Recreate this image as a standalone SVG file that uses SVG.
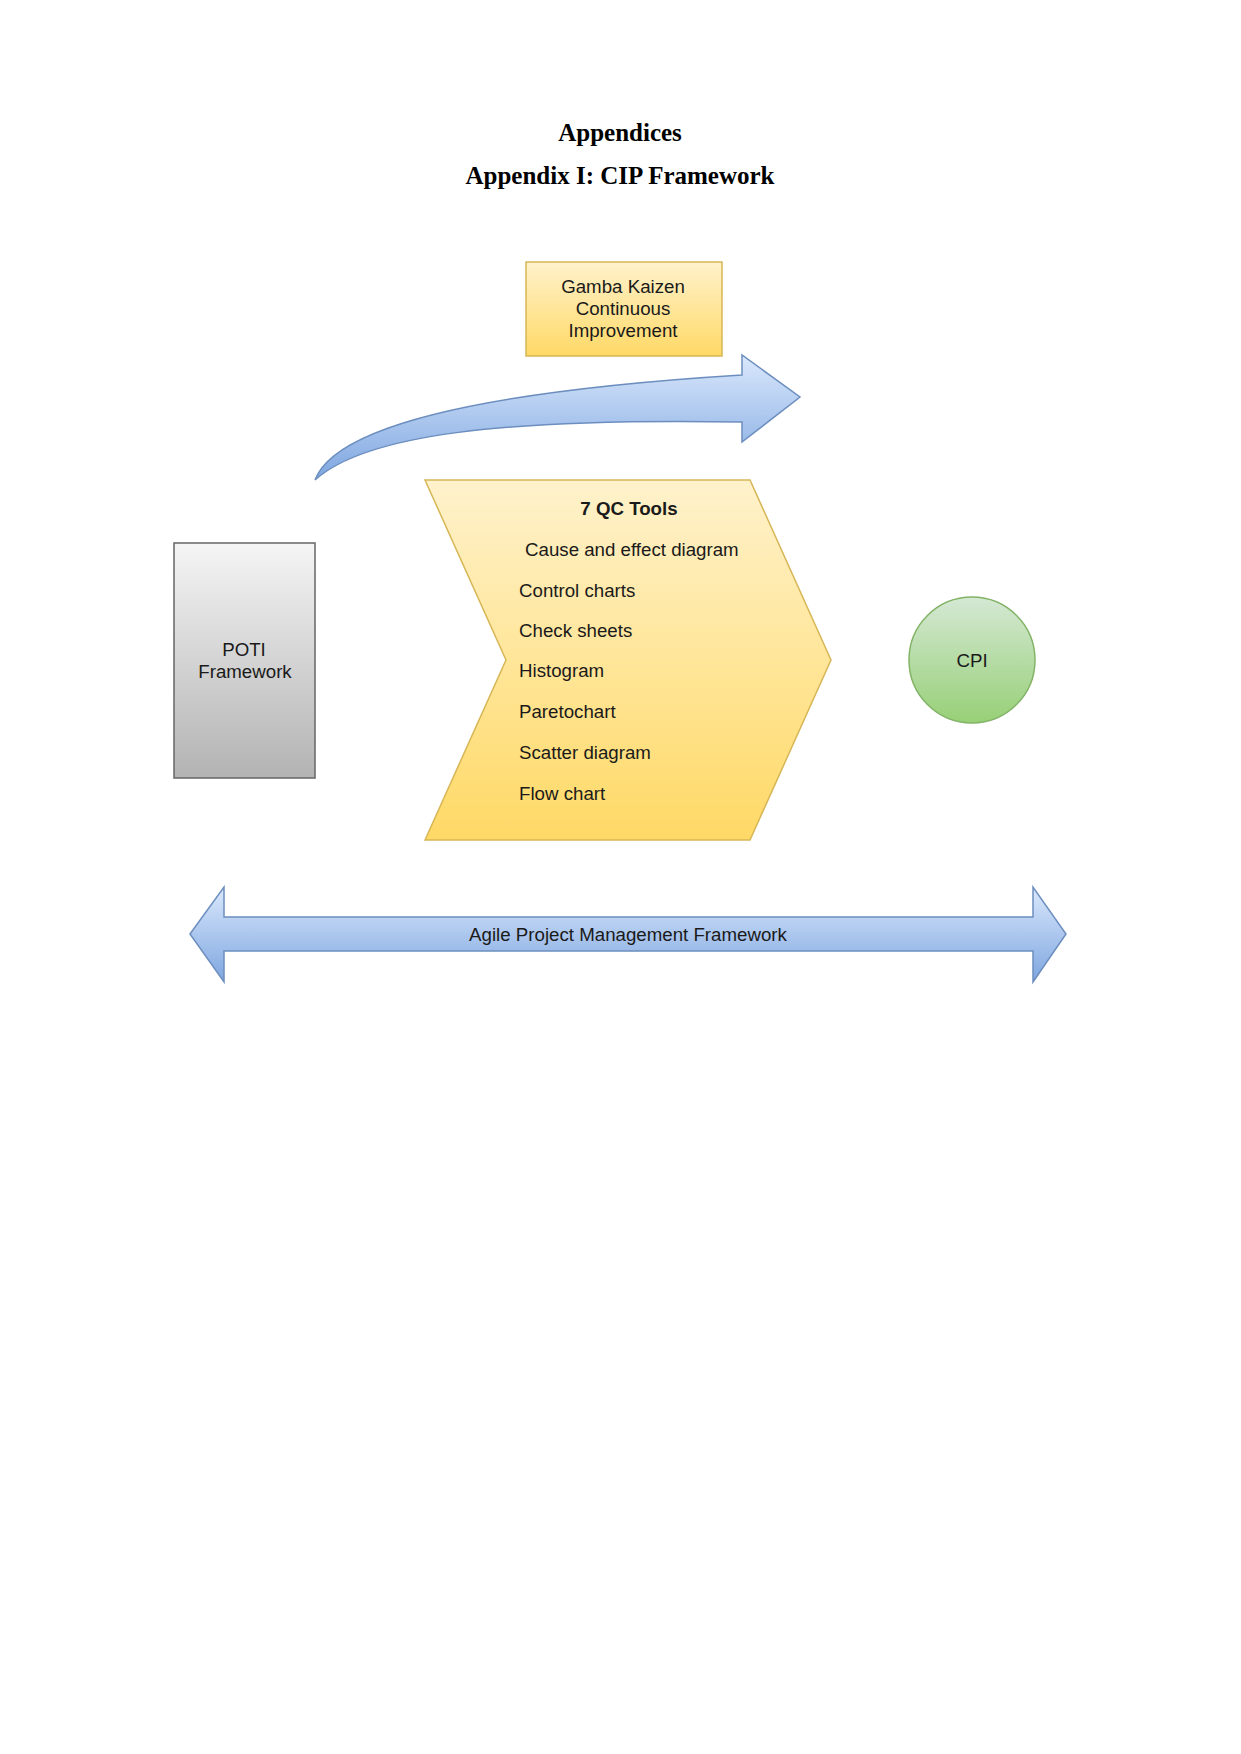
<svg xmlns="http://www.w3.org/2000/svg" width="1241" height="1754" viewBox="0 0 1241 1754">
  <defs>
    <linearGradient id="gYellow" x1="0" y1="0" x2="0" y2="1">
      <stop offset="0" stop-color="#fff2cc"/>
      <stop offset="1" stop-color="#ffd966"/>
    </linearGradient>
    <linearGradient id="gGray" x1="0" y1="0" x2="0" y2="1">
      <stop offset="0" stop-color="#f5f5f5"/>
      <stop offset="1" stop-color="#b3b3b3"/>
    </linearGradient>
    <linearGradient id="gGreen" x1="0" y1="0" x2="0" y2="1">
      <stop offset="0" stop-color="#d5e8d4"/>
      <stop offset="1" stop-color="#97d077"/>
    </linearGradient>
    <linearGradient id="gBlue" x1="0" y1="0" x2="0" y2="1">
      <stop offset="0" stop-color="#dae8fc"/>
      <stop offset="1" stop-color="#7ea6e0"/>
    </linearGradient>
  </defs>
  <style>
    .title { font-family: "Liberation Serif", "Times New Roman", serif; font-weight: bold; font-size: 25px; fill: #000; text-anchor: middle; }
    .lbl { font-family: "Liberation Sans", Arial, sans-serif; font-size: 18.7px; fill: #1a1a1a; }
    .mid { text-anchor: middle; }
    .yellow { fill: url(#gYellow); stroke: #d6b656; stroke-width: 1.5; }
    .gray { fill: url(#gGray); stroke: #666666; stroke-width: 1.5; }
    .green { fill: url(#gGreen); stroke: #82b366; stroke-width: 1.5; }
    .blue { fill: url(#gBlue); stroke: #6c8ebf; stroke-width: 1.5; }
  </style>
  <rect width="1241" height="1754" fill="#ffffff"/>

  <g id="titles">
    <text class="title" x="620" y="141">Appendices</text>
    <text class="title" x="620" y="184">Appendix I: CIP Framework</text>
  </g>

  <g id="node-gamba">
    <rect class="yellow" x="526" y="262" width="196" height="94"/>
    <text class="lbl mid" x="623" y="293">Gamba Kaizen</text>
    <text class="lbl mid" x="623" y="315">Continuous</text>
    <text class="lbl mid" x="623" y="337">Improvement</text>
  </g>

  <g id="connectors">
    <path class="blue" d="M 315 480 C 330 440, 420 395, 742 375 L 742 355 L 800 397 L 742 442 L 742 422 C 500 418, 365 435, 315 480 Z"/>
  </g>

  <g id="node-poti">
    <rect class="gray" x="174" y="543" width="141" height="235"/>
    <text class="lbl mid" x="244" y="656">POTI</text>
    <text class="lbl mid" x="245" y="678">Framework</text>
  </g>

  <g id="node-qc">
    <polygon class="yellow" points="425,480 750,480 831,660 750,840 425,840 506,660"/>
    <text class="lbl mid" x="629" y="515" font-weight="bold">7 QC Tools</text>
    <text class="lbl" x="525" y="556">Cause and effect diagram</text>
    <text class="lbl" x="519" y="597">Control charts</text>
    <text class="lbl" x="519" y="637">Check sheets</text>
    <text class="lbl" x="519" y="677">Histogram</text>
    <text class="lbl" x="519" y="718">Paretochart</text>
    <text class="lbl" x="519" y="759">Scatter diagram</text>
    <text class="lbl" x="519" y="800">Flow chart</text>
  </g>

  <g id="node-cpi">
    <circle class="green" cx="972" cy="660" r="63"/>
    <text class="lbl mid" x="972" y="667">CPI</text>
  </g>

  <g id="node-agile">
    <polygon class="blue" points="190,934 224,887 224,917 1033,917 1033,887 1066,934 1033,982 1033,951 224,951 224,982"/>
    <text class="lbl mid" x="628" y="941">Agile Project Management Framework</text>
  </g>
</svg>
